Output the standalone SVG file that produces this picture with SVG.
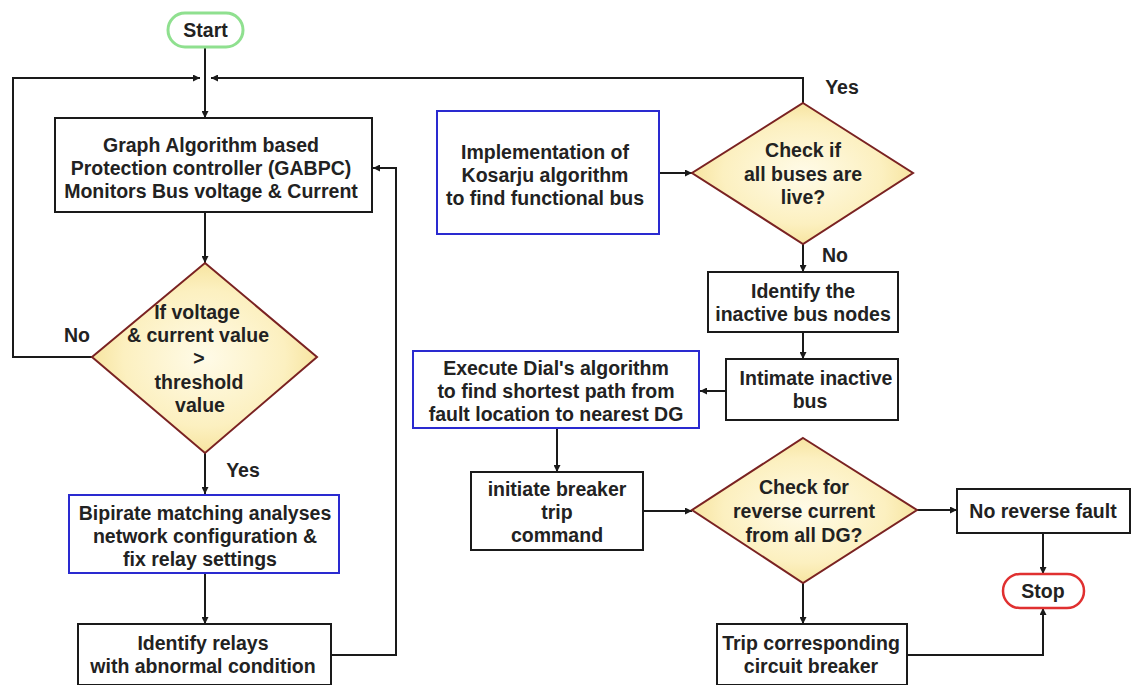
<svg xmlns="http://www.w3.org/2000/svg" width="1136" height="685" viewBox="0 0 1136 685">
<defs>
<marker id="ah" viewBox="0 0 10 10" refX="10" refY="5" markerWidth="8" markerHeight="7" markerUnits="userSpaceOnUse" orient="auto">
<path d="M0,0 L10,5 L0,10 z" fill="#1a1a1a"/>
</marker>
<radialGradient id="dg" cx="50%" cy="50%" r="60%">
<stop offset="0" stop-color="#fffbe8"/>
<stop offset="0.6" stop-color="#fcf0c0"/>
<stop offset="1" stop-color="#f3dc8a"/>
</radialGradient>
</defs>
<style>
text{font-family:"Liberation Sans",Arial,sans-serif;font-weight:bold;font-size:19.5px;fill:#222;text-anchor:middle;}
.box{fill:#fff;stroke:#1a1a1a;stroke-width:2;}
.blue{fill:#fff;stroke:#2a2ad0;stroke-width:2;}
.dia{fill:url(#dg);stroke:#7a2222;stroke-width:2;}
.c{fill:none;stroke:#1a1a1a;stroke-width:2;}
.ca{fill:none;stroke:#1a1a1a;stroke-width:2;marker-end:url(#ah);}
</style>
<rect width="1136" height="685" fill="#fff"/>
<g id="connectors">
<path class="ca" d="M205,47 V118"/>
<path class="ca" d="M92,357 H13 V78 H200"/>
<path class="ca" d="M803,103 V78 H211"/>
<path class="ca" d="M205,212 V263"/>
<path class="ca" d="M205,453 V494"/>
<path class="ca" d="M205,573 V624"/>
<path class="ca" d="M331,655 H396 V168 H373"/>
<path class="ca" d="M659,173 H692"/>
<path class="ca" d="M803,244 V272"/>
<path class="ca" d="M803,332 V359"/>
<path class="ca" d="M726,391 H700"/>
<path class="ca" d="M557,428 V472"/>
<path class="ca" d="M643,511 H692"/>
<path class="ca" d="M917,510 H957"/>
<path class="ca" d="M1043,533 V574"/>
<path class="ca" d="M803,583 V624"/>
<path class="ca" d="M907,655 H1043 V608"/>
</g>
<g id="start">
<rect x="168" y="13" width="75" height="34" rx="17" fill="#fff" stroke="#8fe08f" stroke-width="3"/>
<text x="205.5" y="37">Start</text>
</g>
<g id="gabpc">
<rect class="box" x="55" y="118" width="317" height="94"/>
<text x="211" y="152">Graph Algorithm based</text>
<text x="211" y="175">Protection controller (GABPC)</text>
<text x="211" y="198">Monitors Bus voltage &amp; Current</text>
</g>
<g id="threshold">
<path class="dia" d="M205,263 L317,357 L205,453 L92,357 Z"/>
<text x="197" y="319">If voltage</text>
<text x="198" y="342">&amp; current value</text>
<text x="199" y="365">&gt;</text>
<text x="199" y="389">threshold</text>
<text x="200" y="412">value</text>
</g>
<text x="77" y="342">No</text>
<text x="243" y="477">Yes</text>
<g id="bipirate">
<rect class="blue" x="69" y="495" width="270" height="78"/>
<text x="205" y="520">Bipirate matching analyses</text>
<text x="205" y="543">network configuration &amp;</text>
<text x="200" y="566">fix relay settings</text>
</g>
<g id="relays">
<rect class="box" x="78" y="624" width="253" height="61"/>
<text x="203" y="650">Identify relays</text>
<text x="203" y="673">with abnormal condition</text>
</g>
<g id="kosarju">
<rect class="blue" x="437" y="111" width="222" height="123"/>
<text x="545" y="159">Implementation of</text>
<text x="545" y="182">Kosarju algorithm</text>
<text x="545" y="205">to find functional bus</text>
</g>
<g id="alllive">
<path class="dia" d="M803,103 L913,173 L803,244 L692,173 Z"/>
<text x="803" y="157">Check if</text>
<text x="803" y="181">all buses are</text>
<text x="803" y="204">live?</text>
</g>
<text x="842" y="94">Yes</text>
<text x="835" y="262">No</text>
<g id="inactive">
<rect class="box" x="708" y="272" width="190" height="60"/>
<text x="803" y="298">Identify the</text>
<text x="803" y="321">inactive bus nodes</text>
</g>
<g id="intimate">
<rect class="box" x="726" y="359" width="172" height="61"/>
<text x="816" y="385">Intimate inactive</text>
<text x="810" y="408">bus</text>
</g>
<g id="dial">
<rect class="blue" x="413" y="351" width="286" height="77"/>
<text x="556" y="375">Execute Dial's algorithm</text>
<text x="556" y="398">to find shortest path from</text>
<text x="556" y="421">fault location to nearest DG</text>
</g>
<g id="initiate">
<rect class="box" x="471" y="472" width="172" height="78"/>
<text x="557" y="496">initiate breaker</text>
<text x="557" y="519">trip</text>
<text x="557" y="542">command</text>
</g>
<g id="reverse">
<path class="dia" d="M803,438 L917,510 L803,583 L692,510 Z"/>
<text x="804" y="494">Check for</text>
<text x="804" y="518">reverse current</text>
<text x="804" y="542">from all DG?</text>
</g>
<g id="norev">
<rect class="box" x="957" y="489" width="173" height="44"/>
<text x="1043" y="518">No reverse fault</text>
</g>
<g id="stop">
<rect x="1003" y="574" width="81" height="34" rx="17" fill="#fff" stroke="#e03030" stroke-width="2.5"/>
<text x="1043" y="598">Stop</text>
</g>
<g id="trip">
<rect class="box" x="717" y="624" width="190" height="61"/>
<text x="811" y="650">Trip corresponding</text>
<text x="811" y="673">circuit breaker</text>
</g>
</svg>
